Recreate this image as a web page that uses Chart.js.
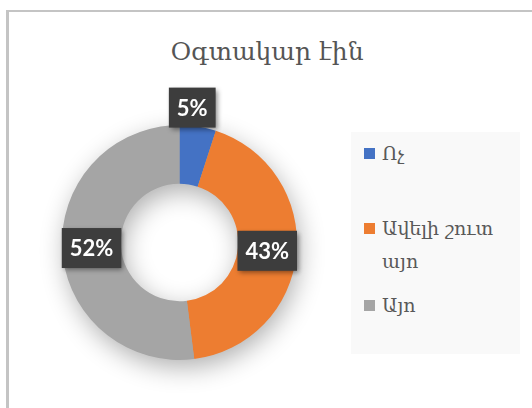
<!DOCTYPE html>
<html>
<head>
<meta charset="utf-8">
<script src="https://cdn.jsdelivr.net/npm/chart.js@4.4.0/dist/chart.umd.min.js"></script>
<style>
    body { margin: 0; background: #fff; width: 532px; height: 408px; overflow: hidden; position: relative; font-family: "DejaVu Serif", serif; }
    #frame { position: absolute; left: 6px; top: 10px; width: 600px; height: 500px; border-left: 3px solid #c4c4c4; border-top: 2px solid #c4c4c4; }
    #title { position: absolute; left: 0; top: 37px; width: 534px; text-align: center; font-size: 25px; line-height: 30px; color: #555555; }
    #chartBox { position: absolute; left: 0; top: 0; width: 532px; height: 408px; }
    #legend { position: absolute; left: 351px; top: 132px; width: 169px; height: 222px; background: #f9f9f9; }
    .item { position: absolute; left: 13px; width: 156px; font-size: 19px; line-height: 33px; color: #595959; }
    .swatch { position: absolute; left: 0; top: 11px; width: 11px; height: 11px; }
    .text { margin-left: 18px; width: 132px; }
</style>
</head>
<body>
<div id="frame"></div>
<div id="title">Օգտակար էին</div>
<div id="chartBox"><canvas id="donutChart"></canvas></div>
<div id="legend"></div>
<script>
'use strict'

const labels = ['Ոչ', 'Ավելի շուտ այո', 'Այո'];
const values = [5, 43, 52];
const colors = ['#4472C4', '#ED7D31', '#A5A5A5'];

// Top of each legend entry inside the legend box.
const legendTops = [5, 80, 157];

window.onload = function() {
    buildLegend();
    drawChart();
}

/**
 * Builds the legend box next to the chart from the labels and colours.
 */
function buildLegend() {
    const legend = document.getElementById('legend');

    labels.forEach((label, i) => {
        let item = document.createElement('div');
        let swatch = document.createElement('div');
        let text = document.createElement('div');

        item.className = 'item';
        item.style.top = legendTops[i] + 'px';
        swatch.className = 'swatch';
        swatch.style.background = colors[i];
        text.className = 'text';
        text.textContent = label;

        item.appendChild(swatch);
        item.appendChild(text);
        legend.appendChild(item);
    });
}

// Soft shadow under the whole ring, drawn before the slices.
const ringShadow = {
    id: 'ringShadow',
    beforeDatasetsDraw(chart) {
        const arc = chart.getDatasetMeta(0).data[0];
        if (!arc) return;
        const ctx = chart.ctx;

        ctx.save();
        ctx.shadowColor = 'rgba(0, 0, 0, 0.32)';
        ctx.shadowBlur = 26;
        ctx.shadowOffsetX = 3;
        ctx.shadowOffsetY = 8;
        ctx.fillStyle = '#a5a5a5';
        ctx.beginPath();
        ctx.arc(arc.x, arc.y, arc.outerRadius - 1, 0, Math.PI * 2);
        ctx.arc(arc.x, arc.y, arc.innerRadius + 1, 0, Math.PI * 2, true);
        ctx.fill();
        ctx.restore();
    }
};

// Dark percentage boxes on the slices.
const percentLabels = {
    id: 'percentLabels',
    afterDatasetsDraw(chart) {
        const ctx = chart.ctx;
        const data = chart.data.datasets[0].data;
        const total = data.reduce((a, b) => a + b, 0);

        chart.getDatasetMeta(0).data.forEach((arc, i) => {
            const p = arc.getProps(['x', 'y', 'startAngle', 'endAngle', 'innerRadius', 'outerRadius']);
            const share = data[i] / total;
            // Small slices get their label pushed out past the ring, nearer the top.
            const mid = share < 0.1 ? p.startAngle + (p.endAngle - p.startAngle) * 0.3 : (p.startAngle + p.endAngle) / 2;
            const r = share < 0.1 ? p.outerRadius + 18 : (p.innerRadius + p.outerRadius) / 2;
            const cx = p.x + Math.cos(mid) * r;
            const cy = p.y + Math.sin(mid) * r;
            const text = Math.round(share * 100) + '%';

            ctx.save();
            ctx.font = 'bold 22px Lato';
            const w = ctx.measureText(text).width + 16;
            const h = 40;

            ctx.shadowColor = 'rgba(0, 0, 0, 0.45)';
            ctx.shadowBlur = 5;
            ctx.shadowOffsetX = 2;
            ctx.shadowOffsetY = 2;
            ctx.fillStyle = '#3d3d3d';
            ctx.fillRect(cx - w / 2, cy - h / 2, w, h);
            ctx.restore();

            ctx.save();
            ctx.font = 'bold 22px Lato';
            ctx.fillStyle = '#ffffff';
            ctx.textAlign = 'center';
            ctx.textBaseline = 'middle';
            ctx.fillText(text, cx, cy + 1);
            ctx.restore();
        });
    }
};

function drawChart() {
    const ctx = document.getElementById('donutChart').getContext('2d');
    const donutChart = new Chart(ctx, {
        type: 'doughnut',
        data: {
            labels: labels,
            datasets: [{
                data: values,
                backgroundColor: colors,
                borderWidth: 0
            }]
        },
        options: {
            responsive: true,
            maintainAspectRatio: false,
            animation: false,
            cutout: '50%',
            layout: {
                padding: { left: 62, right: 235, top: 125, bottom: 48 }
            },
            plugins: {
                legend: { display: false },
                tooltip: { enabled: false }
            }
        },
        plugins: [ringShadow, percentLabels]
    });
}
</script>
</body>
</html>
